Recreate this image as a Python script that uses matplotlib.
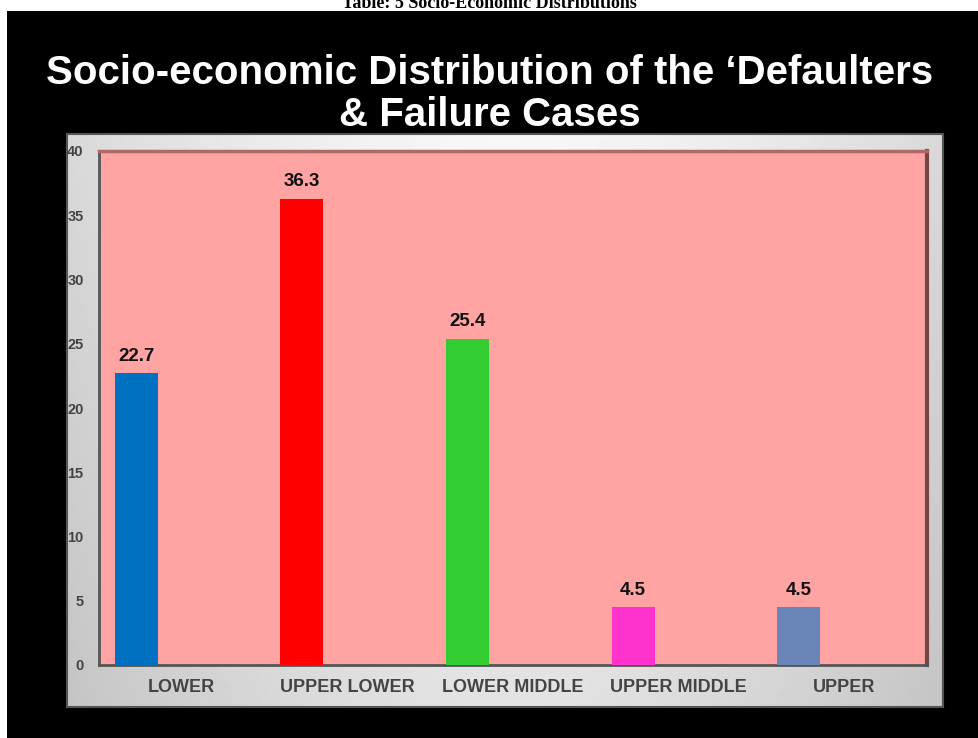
import matplotlib.pyplot as plt
import numpy as np

categories = ['LOWER', 'UPPER LOWER', 'LOWER MIDDLE', 'UPPER MIDDLE', 'UPPER']
values = [22.7, 36.3, 25.4, 4.5, 4.5]
bar_colors = ['#0070C0', '#FF0000', '#33CC33', '#FF33CC', '#6A86B8']
y_ticks = [0, 5, 10, 15, 20, 25, 30, 35, 40]

fig = plt.figure(figsize=(9.79, 7.38), dpi=100)
fig.patch.set_facecolor('white')
W, H = 979, 738

def fx(px):
    return px / W

def fy(py):
    return 1 - py / H

# fond noir
bg = fig.add_axes([fx(7), 0, 1 - fx(7), fy(11)])
bg.set_facecolor('black')
bg.set_xticks([])
bg.set_yticks([])
for s in bg.spines.values():
    s.set_visible(False)

# titre du tableau (coupé en haut, comme dans l'original)
fig.text(0.5, fy(3), 'Table: 5 Socio-Economic Distributions', ha='center', va='center',
         fontsize=13, fontweight='bold', family='Liberation Serif', color='black')

# titre du graphique
fig.text(0.5, fy(73), 'Socio-economic Distribution of the \u2018Defaulters', ha='center', va='center',
         fontsize=29, fontweight='bold', family='Liberation Sans', color='white')
fig.text(0.5, fy(115), '& Failure Cases', ha='center', va='center',
         fontsize=29, fontweight='bold', family='Liberation Sans', color='white')

# panneau gris avec dégradé
panel = fig.add_axes([fx(67), fy(707), fx(943 - 67), (707 - 134) / H])
gx = np.linspace(-1, 1, 200)
gy = np.linspace(0, 1, 150)
X, Y = np.meshgrid(gx, gy)
grad = 0.97 - 0.12 * np.abs(X) ** 1.5 - 0.08 * Y
panel.imshow(grad, cmap='gray', vmin=0, vmax=1, aspect='auto', extent=[0, 1, 0, 1])
panel.set_xticks([])
panel.set_yticks([])
for s in panel.spines.values():
    s.set_color('#555555')
    s.set_linewidth(1.5)

# zone de tracé
ax = fig.add_axes([fx(99), fy(665), fx(927 - 99), (665 - 151) / H])
ax.set_facecolor('#FFA3A3')
x = np.arange(len(categories))
ax.bar(x - 0.275, values, width=0.26, color=bar_colors, zorder=3)
for xi, v in zip(x, values):
    ax.annotate(f'{v}', (xi - 0.275, v), xytext=(0, 6), textcoords='offset points',
                ha='center', va='bottom', fontsize=13.5, fontweight='bold',
                color='#111111', family='Liberation Sans')

ax.set_xlim(-0.5, 4.5)
ax.set_ylim(0, 40)
ax.set_yticks(y_ticks)
ax.set_xticks(x)
ax.set_xticklabels(categories)
ax.tick_params(axis='both', length=0, colors='#444444')
ax.tick_params(axis='y', pad=11, labelsize=10.5)
ax.tick_params(axis='x', pad=10, labelsize=13)
for lab in ax.get_xticklabels() + ax.get_yticklabels():
    lab.set_fontweight('bold')
    lab.set_family('Liberation Sans')

ax.spines['left'].set_color('#555555')
ax.spines['bottom'].set_color('#555555')
ax.spines['left'].set_linewidth(2)
ax.spines['bottom'].set_linewidth(2)
ax.spines['top'].set_color('#B06868')
ax.spines['top'].set_linewidth(2.5)
ax.spines['right'].set_color('#704848')
ax.spines['right'].set_linewidth(3)

plt.savefig('out.png', dpi=100, facecolor=fig.get_facecolor())
